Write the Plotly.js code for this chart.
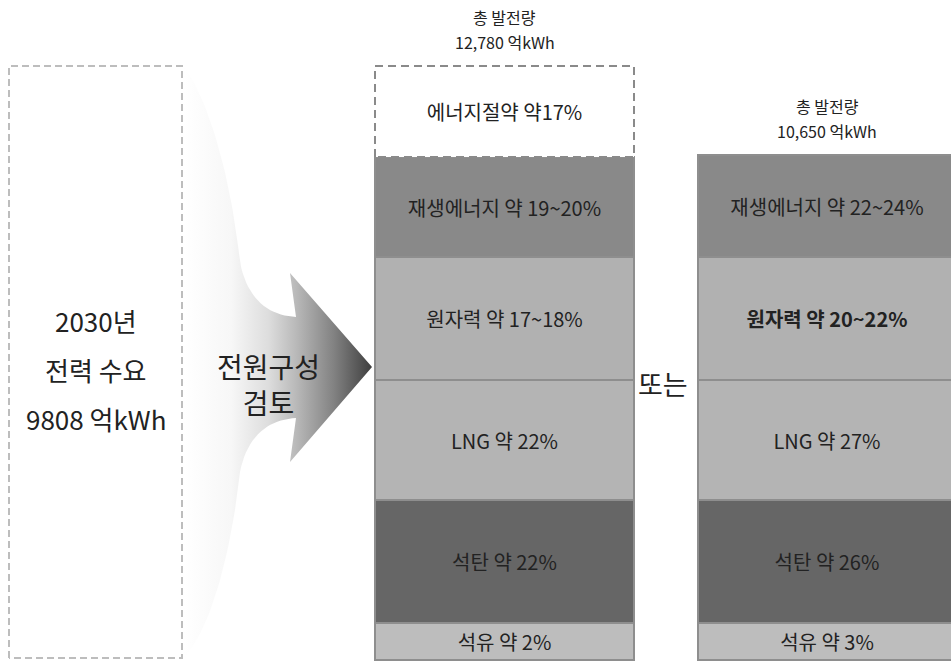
<!DOCTYPE html>
<html>
<head>
<meta charset="utf-8">
<script src="https://cdn.plot.ly/plotly-3.0.1.min.js"></script>
<style>html,body{margin:0;padding:0;background:#fff;}#chart{width:951px;height:662px;}</style>
</head>
<body>
<div id="chart"></div>
<script>
// ---------------- DATA ----------------
const scenarios = ['시나리오 1', '시나리오 2'];
const totalGeneration = ['12,780 억kWh', '10,650 억kWh'];
const totalTitle = '총 발전량';
const sources = ['석유', '석탄', 'LNG', '원자력', '재생에너지'];
// schematic segment heights (as drawn in the diagram), bottom to top
const heightsScenario1 = [37, 123, 120, 123, 100];
const heightsScenario2 = [37, 123, 120, 123, 102];
const labelsScenario1 = ['석유 약 2%', '석탄 약 22%', 'LNG 약 22%', '원자력 약 17~18%', '재생에너지 약 19~20%'];
const labelsScenario2 = ['석유 약 3%', '석탄 약 26%', 'LNG 약 27%', '<b>원자력 약 20~22%</b>', '재생에너지 약 22~24%'];
const savingHeight = 91;
const savingLabel = '에너지절약 약17%';
const demandLabel = ['2030년', '전력 수요', '9808 억kWh'];
const demandHeight = 592;
const reviewLabel = ['전원구성', '검토'];
const orLabel = '또는';

// ---------------- LAYOUT / STYLE ----------------
const FONT = "'Noto Sans CJK KR', 'Noto Sans', sans-serif";
const barCenters = [504.5, 827];
const barWidth = 259;
const sourceColors = ['#bdbdbd', '#666666', '#b4b4b4', '#b1b1b1', '#898989'];
const borderColor = '#8e8e8e';
const demandBox = {x0: 9, x1: 182, base: 2};
const LABEL_SIZE = 20;

const traces = [];
sources.forEach((s, i) => {
  traces.push({
    type: 'bar', name: s,
    x: barCenters, y: [heightsScenario1[i], heightsScenario2[i]],
    width: [barWidth, barWidth],
    text: [labelsScenario1[i], labelsScenario2[i]],
    textposition: 'inside', insidetextanchor: 'middle', textangle: 0,
    constraintext: 'none',
    textfont: {family: FONT, size: LABEL_SIZE, color: '#222'},
    marker: {color: sourceColors[i], line: {color: borderColor, width: 2}},
    hoverinfo: 'skip', cliponaxis: false
  });
});
// energy saving block on top of scenario 1
traces.push({
  type: 'bar', name: '에너지절약',
  x: [barCenters[0]], y: [savingHeight], width: [barWidth],
  text: [savingLabel], textposition: 'inside', insidetextanchor: 'middle', textangle: 0,
  constraintext: 'none',
  textfont: {family: FONT, size: LABEL_SIZE, color: '#222'},
  marker: {color: 'rgba(255,255,255,1)', line: {width: 0}},
  hoverinfo: 'skip'
});

// dashed outline of saving block (computed from data)
const stackTop1 = heightsScenario1.reduce((a, b) => a + b, 0);
const stackTop2 = heightsScenario2.reduce((a, b) => a + b, 0);
const sx0 = barCenters[0] - barWidth / 2, sx1 = barCenters[0] + barWidth / 2;
const sy0 = stackTop1, sy1 = stackTop1 + savingHeight;
traces.push({
  type: 'scatter', mode: 'lines',
  x: [sx0, sx0, sx1, sx1, sx0], y: [sy0, sy1, sy1, sy0, sy0],
  line: {color: '#8a8a8a', width: 2, dash: '8px,5px'},
  hoverinfo: 'skip'
});

// arrow shape (decorative) built with cubic beziers; pixel-like coords converted to axis
function toY(py) { return 660 - py; }
function bez(p0, p1, p2, p3, n) {
  const pts = [];
  for (let k = 0; k <= n; k++) {
    const t = k / n, u = 1 - t;
    pts.push([
      u*u*u*p0[0] + 3*u*u*t*p1[0] + 3*u*t*t*p2[0] + t*t*t*p3[0],
      u*u*u*p0[1] + 3*u*u*t*p1[1] + 3*u*t*t*p2[1] + t*t*t*p3[1]
    ]);
  }
  return pts;
}
let arrow = [];
arrow = arrow.concat(bez([184,66],[214,110],[232,190],[240,262],30));
arrow = arrow.concat(bez([240,262],[247,300],[270,316],[296,317],20));
arrow.push([290,273],[372,367],[290,462],[296,418]);
arrow = arrow.concat(bez([296,418],[270,419],[247,435],[240,472],20));
arrow = arrow.concat(bez([240,472],[232,544],[214,624],[184,658],30));
arrow.push([184,66]);
traces.push({
  type: 'scatter', mode: 'lines', fill: 'toself',
  x: arrow.map(p => p[0]), y: arrow.map(p => toY(p[1])),
  line: {width: 0, color: 'rgba(0,0,0,0)'},
  fillgradient: {
    type: 'horizontal',
    colorscale: [[0, '#ffffff'], [0.25, '#f7f7f7'], [0.45, '#dddddd'], [0.6, '#b8b8b8'], [0.8, '#818181'], [1, '#3e3e3e']]
  },
  hoverinfo: 'skip'
});

// demand box (dashed), height from data
traces.push({
  type: 'scatter', mode: 'lines',
  x: [demandBox.x0, demandBox.x0, demandBox.x1, demandBox.x1, demandBox.x0],
  y: [demandBox.base, demandBox.base + demandHeight, demandBox.base + demandHeight, demandBox.base, demandBox.base],
  line: {color: '#bdbdbd', width: 2, dash: '7px,4px'},
  hoverinfo: 'skip'
});

const annotations = [];
const tops = [stackTop1 + savingHeight, stackTop2];
barCenters.forEach((cx, i) => {
  annotations.push({x: cx, y: tops[i], yshift: 24, text: totalGeneration[i], showarrow: false,
    font: {family: FONT, size: 16, color: '#222'}, xanchor: 'center', yanchor: 'middle'});
  annotations.push({x: cx, y: tops[i], yshift: 49, text: totalTitle, showarrow: false,
    font: {family: FONT, size: 16, color: '#222'}, xanchor: 'center', yanchor: 'middle'});
});
const demandCx = (demandBox.x0 + demandBox.x1) / 2;
const demandYs = [toY(320), toY(369), toY(418)];
demandLabel.forEach((t, i) => {
  annotations.push({x: demandCx, y: demandYs[i], text: t, showarrow: false,
    font: {family: FONT, size: 26, color: '#222'}, xanchor: 'center', yanchor: 'middle'});
});
annotations.push({x: 268, y: toY(384), text: reviewLabel.join('<br>'), showarrow: false,
  font: {family: FONT, size: 28, color: '#222'}, xanchor: 'center', yanchor: 'middle'});
annotations.push({x: 663, y: toY(383), text: orLabel, showarrow: false,
  font: {family: FONT, size: 27, color: '#222'}, xanchor: 'center', yanchor: 'middle'});

const layout = {
  width: 951, height: 662,
  margin: {l: 0, r: 0, t: 0, b: 0, pad: 0},
  paper_bgcolor: '#ffffff', plot_bgcolor: '#ffffff',
  barmode: 'stack', showlegend: false,
  xaxis: {range: [0, 951], visible: false, fixedrange: true},
  yaxis: {range: [-2, 660], visible: false, fixedrange: true},
  annotations: annotations,
  font: {family: FONT}
};
Plotly.newPlot('chart', traces, layout, {displayModeBar: false, staticPlot: true});
</script>
</body>
</html>
